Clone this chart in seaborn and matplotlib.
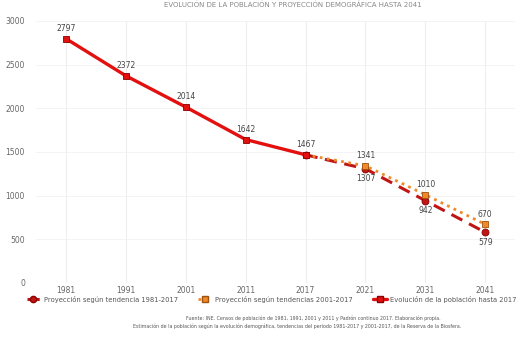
import matplotlib
matplotlib.use("Agg")
import matplotlib.pyplot as plt
import seaborn as sns
import pandas as pd
from matplotlib.lines import Line2D

years = ["1981", "1991", "2001", "2011", "2017", "2021", "2031", "2041"]
hist_years = ["1981", "1991", "2001", "2011", "2017"]
hist_vals = [2797, 2372, 2014, 1642, 1467]
proj1_years = ["2017", "2021", "2031", "2041"]
proj1_vals = [1467, 1307, 942, 579]
proj2_years = ["2017", "2021", "2031", "2041"]
proj2_vals = [1467, 1341, 1010, 670]
yticks = [0, 500, 1000, 1500, 2000, 2500, 3000]

lab1 = "Proyección según tendencia 1981-2017"
lab2 = "Proyección según tendencias 2001-2017"
lab3 = "Evolución de la población hasta 2017"
title = "EVOLUCIÓN DE LA POBLACIÓN Y PROYECCIÓN DEMOGRÁFICA HASTA 2041"
source1 = "Fuente: INE. Censos de población de 1981, 1991, 2001 y 2011 y Padrón continuo 2017. Elaboración propia."
source2 = "Estimación de la población según la evolución demográfica, tendencias del periodo 1981-2017 y 2001-2017, de la Reserva de la Biosfera."

sns.set_theme(style="white")
plt.rcParams['font.family'] = ['DejaVu Sans']

pos = {y: i for i, y in enumerate(years)}
df_h = pd.DataFrame({"x": [pos[y] for y in hist_years], "v": hist_vals})
df_1 = pd.DataFrame({"x": [pos[y] for y in proj1_years], "v": proj1_vals})
df_2 = pd.DataFrame({"x": [pos[y] for y in proj2_years], "v": proj2_vals})

fig = plt.figure(figsize=(5.22, 3.38), dpi=100)
ax = fig.add_axes([0.069, 0.163, 0.918, 0.775])

red = "#e31010"
dred = "#c01515"
orange = "#ee8a2a"

sns.lineplot(data=df_1, x="x", y="v", ax=ax, color=dred, linewidth=2.2,
             linestyle=(0, (4, 2.5)), marker="o", markersize=5,
             markeredgecolor="#8a0000", markeredgewidth=0.6, zorder=3)
sns.lineplot(data=df_2, x="x", y="v", ax=ax, color=orange, linewidth=2.0,
             linestyle=(0, (1, 1.6)), marker="s", markersize=5,
             markeredgecolor="#a05010", markeredgewidth=0.6, zorder=4)
sns.lineplot(data=df_h, x="x", y="v", ax=ax, color=red, linewidth=2.4,
             marker="s", markersize=5, markeredgecolor="#8a0000",
             markeredgewidth=0.6, zorder=5)

txtc = "#444444"
for x, v in zip(df_h["x"], df_h["v"]):
    ax.annotate(str(v), (x, v), xytext=(0, 4), textcoords="offset points",
                ha="center", va="bottom", fontsize=5.5, color=txtc)
for x, v in zip(df_2["x"][1:], df_2["v"][1:]):
    ax.annotate(str(v), (x, v), xytext=(0, 4), textcoords="offset points",
                ha="center", va="bottom", fontsize=5.5, color=txtc)
for x, v in zip(df_1["x"][1:], df_1["v"][1:]):
    ax.annotate(str(v), (x, v), xytext=(0, -4), textcoords="offset points",
                ha="center", va="top", fontsize=5.5, color=txtc)

ax.set_xlim(-0.5, len(years) - 0.5)
ax.set_ylim(0, 3000)
ax.set_xticks(range(len(years)))
ax.set_xticklabels(years)
ax.set_xticks([i + 0.5 for i in range(len(years) - 1)], minor=True)
ax.set_yticks(yticks)
ax.set_xlabel("")
ax.set_ylabel("")
ax.tick_params(axis="y", labelsize=5.5, colors="#666666", length=0, pad=8)
ax.tick_params(axis="x", labelsize=5.5, colors="#666666", length=0, pad=2)
ax.tick_params(axis="x", which="minor", length=3, color="#999999", direction="in")
for s in ax.spines.values():
    s.set_visible(False)
ax.grid(True, axis="x", color="#eeeeee", linewidth=0.8)
ax.grid(True, axis="y", color="#f2f2f2", linewidth=0.6)
ax.set_axisbelow(True)

handles = [
    Line2D([], [], color=dred, lw=2.2, ls=(0, (4, 2.5)), marker="o", markersize=4.5, markeredgecolor="#8a0000"),
    Line2D([], [], color=orange, lw=2.0, ls=(0, (1, 1.6)), marker="s", markersize=4.5, markeredgecolor="#a05010"),
    Line2D([], [], color=red, lw=2.4, marker="s", markersize=4.5, markeredgecolor="#8a0000"),
]
fig.legend(handles, [lab1, lab2, lab3], loc="center", bbox_to_anchor=(0.52, 0.115),
           ncol=3, frameon=False, fontsize=4.9, handlelength=2.0, columnspacing=3.0,
           handletextpad=0.5, labelcolor="#555555")

fig.text(0.56, 0.985, title, ha="center", va="center", fontsize=5, color="#888888")
fig.text(0.60, 0.058, source1, ha="center", va="center", fontsize=3.4, color="#555555")
fig.text(0.57, 0.036, source2, ha="center", va="center", fontsize=3.4, color="#555555")

fig.savefig("out.png", dpi=100)
